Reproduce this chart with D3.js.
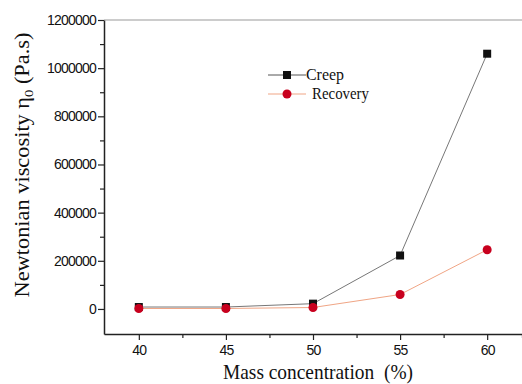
<!DOCTYPE html>
<html>
<head>
<meta charset="utf-8">
<script src="https://d3js.org/d3.v7.min.js"></script>
<style>
  body { margin: 0; background: #fff; }
  .tick text { font-family: "Liberation Sans", Arial, sans-serif; font-size: 14px; letter-spacing: -0.8px; fill: #111; }
  .ttl { font-family: "Liberation Serif", "Times New Roman", serif; fill: #111; }
</style>
</head>
<body>
<div id="chart"></div>
<script>
// data
var concentration = [40, 45, 50, 55, 60];
var creep = [8000, 8000, 22000, 222000, 1060000];
var recovery = [2000, 2000, 6000, 60000, 246000];
var yTicks = [0, 200000, 400000, 600000, 800000, 1000000, 1200000];
var xTicks = [40, 45, 50, 55, 60];

var W = 522, H = 384;
var margin = {top: 20, right: 0, bottom: 50, left: 104};
var width = W - margin.left - margin.right,
    height = H - margin.top - margin.bottom;

var svg = d3.select("#chart").append("svg")
  .attr("width", W).attr("height", H)
  .append("g")
  .attr("transform", "translate(" + margin.left + "," + margin.top + ")");

var x = d3.scaleLinear().domain([38, 62]).range([0, width]);
var y = d3.scaleLinear().domain([-104000, 1200000]).range([height, 0]);

// top frame line
svg.append("line")
  .attr("x1", 0).attr("x2", width).attr("y1", 0).attr("y2", 0)
  .attr("stroke", "#999").attr("stroke-width", 1.2);

// minor ticks
svg.append("g")
  .attr("transform", "translate(0," + height + ")")
  .call(d3.axisBottom(x).tickValues([42.5, 47.5, 52.5, 57.5, 62]).tickSize(4).tickFormat(""))
  .call(function(g) { g.select(".domain").remove(); });
svg.append("g")
  .call(d3.axisLeft(y).tickValues([100000, 300000, 500000, 700000, 900000, 1100000]).tickSize(4).tickFormat(""))
  .call(function(g) { g.select(".domain").remove(); });

var xAxis = svg.append("g")
  .attr("transform", "translate(0," + height + ")")
  .call(d3.axisBottom(x).tickValues(xTicks).tickSize(6).tickSizeOuter(0).tickPadding(5));
var yAxis = svg.append("g")
  .call(d3.axisLeft(y).tickValues(yTicks).tickSize(6).tickSizeOuter(0).tickPadding(2).tickFormat(d3.format("d")));

svg.selectAll(".domain").attr("stroke", "#222").attr("stroke-width", 1.5);
svg.selectAll(".tick line").attr("stroke", "#222").attr("stroke-width", 1.2);

var line = function(vals) {
  return d3.line()
    .x(function(d, i) { return x(concentration[i]); })
    .y(function(d) { return y(d); })(vals);
};

svg.append("path").attr("d", line(creep))
  .attr("fill", "none").attr("stroke", "#777").attr("stroke-width", 1);
svg.append("path").attr("d", line(recovery))
  .attr("fill", "none").attr("stroke", "#f0a585").attr("stroke-width", 1);

svg.selectAll(".sq").data(creep).enter().append("rect")
  .attr("x", function(d, i) { return x(concentration[i]) - 4; })
  .attr("y", function(d) { return y(d) - 4; })
  .attr("width", 8).attr("height", 8)
  .attr("fill", "#111");
svg.selectAll(".ci").data(recovery).enter().append("circle")
  .attr("cx", function(d, i) { return x(concentration[i]); })
  .attr("cy", function(d) { return y(d); })
  .attr("r", 4.5)
  .attr("fill", "#c8001e");

// legend
var lg = d3.select("svg").append("g");
lg.append("line").attr("x1", 268).attr("x2", 306).attr("y1", 75).attr("y2", 75)
  .attr("stroke", "#555").attr("stroke-width", 1);
lg.append("rect").attr("x", 283).attr("y", 71).attr("width", 8).attr("height", 8).attr("fill", "#111");
lg.append("text").attr("class", "ttl").attr("x", 306).attr("y", 80)
  .attr("font-size", 17).attr("textLength", 38).attr("lengthAdjust", "spacingAndGlyphs").text("Creep");
lg.append("line").attr("x1", 268).attr("x2", 306).attr("y1", 94).attr("y2", 94)
  .attr("stroke", "#f0a585").attr("stroke-width", 1);
lg.append("circle").attr("cx", 287).attr("cy", 94).attr("r", 4.5).attr("fill", "#c8001e");
lg.append("text").attr("class", "ttl").attr("x", 312).attr("y", 99)
  .attr("font-size", 17).attr("textLength", 57).attr("lengthAdjust", "spacingAndGlyphs").text("Recovery");

// axis titles
d3.select("svg").append("text").attr("class", "ttl")
  .attr("x", 318).attr("y", 379).attr("text-anchor", "middle")
  .attr("font-size", 21).attr("textLength", 190).attr("lengthAdjust", "spacingAndGlyphs")
  .text("Mass concentration \u00a0(%)");

var yt = d3.select("svg").append("text").attr("class", "ttl")
  .attr("transform", "translate(29,165) rotate(-90)")
  .attr("text-anchor", "middle")
  .attr("font-size", 20).attr("textLength", 265).attr("lengthAdjust", "spacingAndGlyphs");
yt.append("tspan").text("Newtonian viscosity η");
yt.append("tspan").attr("font-size", 13).attr("dy", 4).text("0");
yt.append("tspan").attr("dy", -4).text(" (Pa.s)");
</script>
</body>
</html>
